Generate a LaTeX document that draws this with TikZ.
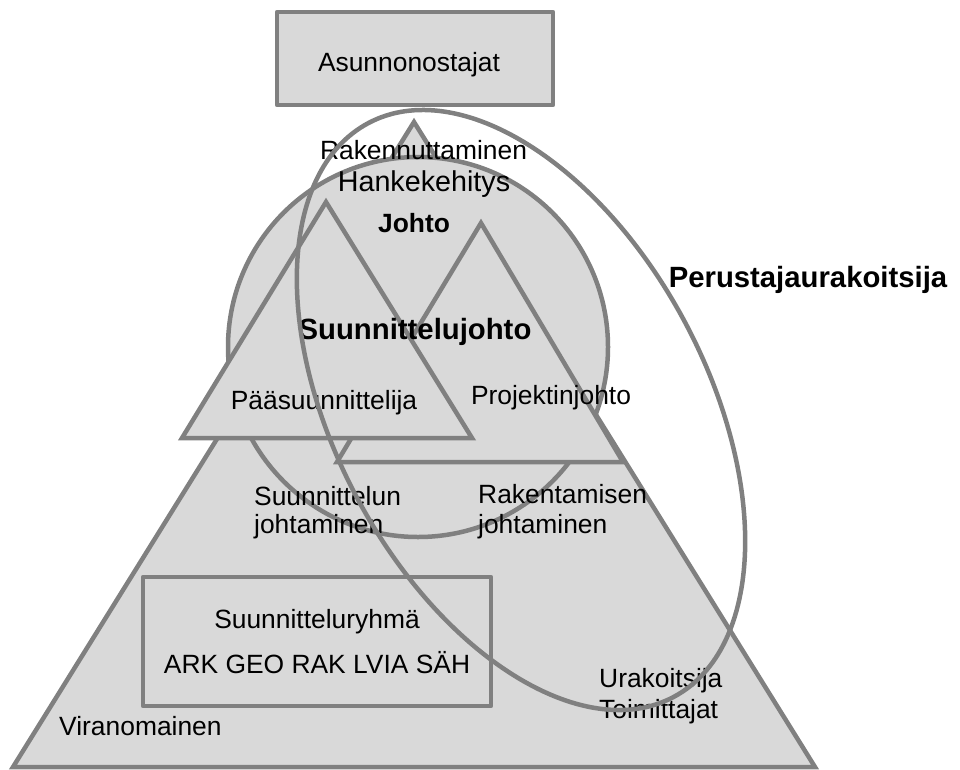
\documentclass[tikz,border=0pt]{standalone}
\usepackage{fontspec}
\setmainfont{Liberation Sans}
\definecolor{edgegray}{HTML}{808080}
\definecolor{areagray}{HTML}{D9D9D9}
\tikzset{
  grayarea/.style={draw=edgegray, fill=areagray, line width=4.5pt},
  grayline/.style={draw=edgegray, line width=4.5pt},
  lbl/.style={inner sep=0pt, font=\fontsize{26.4}{30}\selectfont},
  lblbig/.style={inner sep=0pt, font=\fontsize{28.7}{33}\selectfont},
  lblbold/.style={inner sep=0pt, font=\fontsize{29.3}{33}\selectfont\bfseries},
}
\begin{document}
\begin{tikzpicture}[x=1pt,y=-1pt]
\useasboundingbox (0,0) rectangle (960,769);

% base pyramid
\path[grayarea] (414,122) -- (13,767) -- (815,767) -- cycle;
% management circle
\path[grayarea] (418,347) circle[radius=190pt];
% project management triangle, then head designer triangle over it
\path[grayarea] (481,223) -- (337,462) -- (623,462) -- cycle;
\path[grayarea] (326,202) -- (182,438) -- (472,438) -- cycle;
% design team box
\path[grayarea, line join=round] (143,577) rectangle (491,706);
% buyers box
\path[grayarea, line join=round] (277,12) rectangle (553,105);

% labels
\node[lbl, anchor=base] (buyers) at (409,71) {Asunnonostajat};
\node[lbl, anchor=base] (rak) at (423.5,159) {Rakennuttaminen};
\node[lblbig, anchor=base] (hanke) at (424,191) {Hankekehitys};
\node[lbl, anchor=base, font=\fontsize{26.4}{30}\selectfont\bfseries] (johto) at (414,232) {Johto};
\node[lblbold, anchor=base] (sjohto) at (415,339) {Suunnittelujohto};
\node[lbl, anchor=base] (paa) at (324,409) {Pääsuunnittelija};
\node[lbl, anchor=base] (proj) at (551,404) {Projektinjohto};
\node[lbl, anchor=base west] (sj1) at (254,505) {Suunnittelun};
\node[lbl, anchor=base west] (sj2) at (254,533) {johtaminen};
\node[lbl, anchor=base west] (rj1) at (478,503) {Rakentamisen};
\node[lbl, anchor=base west] (rj2) at (478,533) {johtaminen};
\node[lbl, anchor=base] (team) at (317,628) {Suunnitteluryhmä};
\node[lbl, anchor=base] (fields) at (317,673) {ARK GEO RAK LVIA SÄH};
\node[lbl, anchor=base west] (vir) at (59,735) {Viranomainen};
\node[lbl, anchor=base west] (ura) at (599,687) {Urakoitsija};
\node[lbl, anchor=base west] (toim) at (599,718) {Toimittajat};
\node[lblbold, anchor=base] (perus) at (808,287) {Perustajaurakoitsija};

% founding contractor scope
\draw[grayline, rotate around={-62:(521,410)}] (521,410) ellipse[x radius=325pt, y radius=186pt];
\end{tikzpicture}
\end{document}
